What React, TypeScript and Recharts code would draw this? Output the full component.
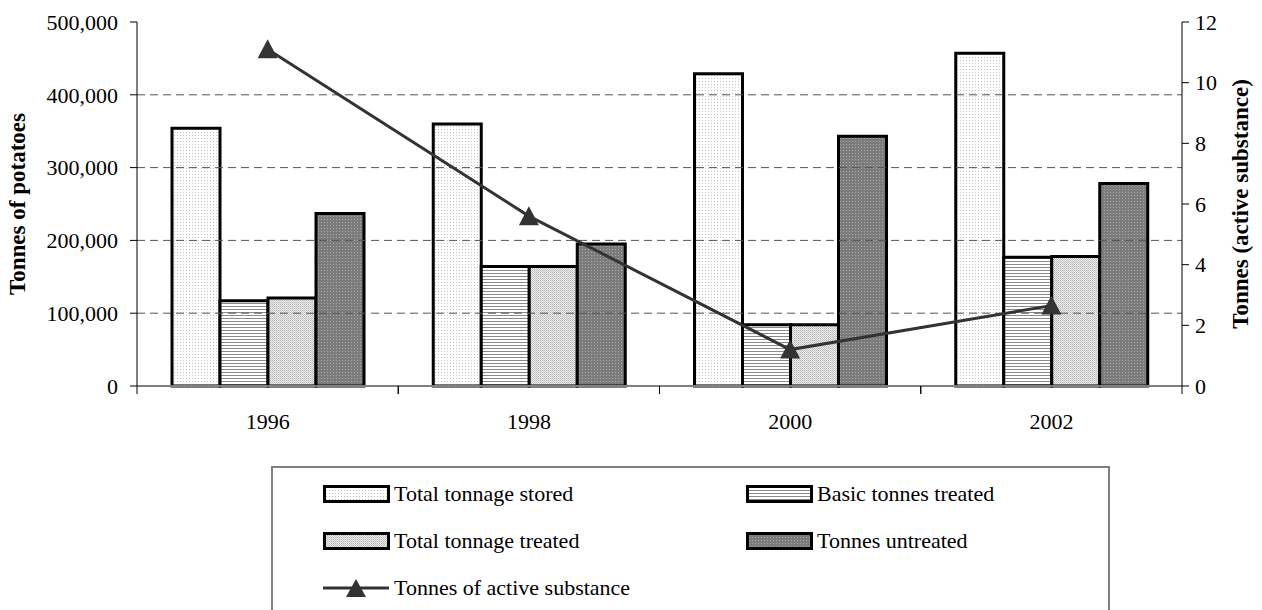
import React from "react";
import { ComposedChart, Bar, Line, XAxis, YAxis, ReferenceLine } from "recharts";

document.body.style.margin = "0";

const years = ["1996", "1998", "2000", "2002"];
const totalStored = [354000, 360000, 429000, 457000];
const basicTreated = [117000, 164000, 84000, 177000];
const totalTreated = [121000, 164000, 84000, 178000];
const untreated = [237000, 195000, 343000, 278000];
const activeSubstance = [11.1, 5.6, 1.2, 2.65];

const leftTicks = [0, 100000, 200000, 300000, 400000, 500000];
const rightTicks = [0, 2, 4, 6, 8, 10, 12];
const gridValues = [100000, 200000, 300000, 400000];

const FONT = "Liberation Serif, Times New Roman, serif";

const data = years.map((year, i) => ({
  year,
  stored: totalStored[i],
  basic: basicTreated[i],
  treated: totalTreated[i],
  untreated: untreated[i],
  active: activeSubstance[i],
}));

const series = [
  { key: "stored", name: "Total tonnage stored", fill: "url(#pStored)" },
  { key: "basic", name: "Basic tonnes treated", fill: "url(#pBasic)" },
  { key: "treated", name: "Total tonnage treated", fill: "url(#pTreated)" },
  { key: "untreated", name: "Tonnes untreated", fill: "url(#pUntreated)" },
];

const Patterns = () => (
  <svg width={0} height={0} style={{ position: "absolute" }}>
    <defs>
      <pattern id="pStored" width={3} height={3} patternUnits="userSpaceOnUse">
        <rect width={3} height={3} fill="#ffffff" />
        <rect width={1} height={1} fill="#c4c4c4" />
      </pattern>
      <pattern id="pBasic" width={3} height={3} patternUnits="userSpaceOnUse">
        <rect width={3} height={3} fill="#ffffff" />
        <rect width={3} height={1} fill="#8a8a8a" />
      </pattern>
      <pattern id="pTreated" width={2} height={2} patternUnits="userSpaceOnUse">
        <rect width={2} height={2} fill="#ececec" />
        <rect width={1} height={1} fill="#b8b8b8" />
        <rect x={1} y={1} width={1} height={1} fill="#c8c8c8" />
      </pattern>
      <pattern id="pUntreated" width={3} height={3} patternUnits="userSpaceOnUse">
        <rect width={3} height={3} fill="#7c7c7c" />
        <rect width={1} height={1} fill="#a8a8a8" />
      </pattern>
    </defs>
  </svg>
);

// year label plus tick marks at the category boundaries
const YearTick = (props: any) => {
  const { x, y, payload } = props;
  const off = payload.offset || 0;
  return (
    <g>
      <line x1={x - off} x2={x - off} y1={y} y2={y + 8} stroke="#000" />
      <line x1={x + off} x2={x + off} y1={y} y2={y + 8} stroke="#000" />
      <text x={x} y={y + 43} textAnchor="middle" fontSize={22} fontFamily={FONT} fill="#000">
        {payload.value}
      </text>
    </g>
  );
};

const AxisTitle = (props: any) => {
  const { viewBox, text, dx } = props;
  const x = viewBox.x + dx;
  const y = viewBox.y + viewBox.height / 2;
  return (
    <text
      x={x}
      y={y}
      transform={`rotate(-90, ${x}, ${y})`}
      textAnchor="middle"
      dominantBaseline="central"
      fontSize={23}
      fontWeight="bold"
      fontFamily={FONT}
      fill="#000"
    >
      {text}
    </text>
  );
};

const Triangle = (props: any) => {
  const { cx, cy, index } = props;
  if (cx == null || cy == null) return <g key={index} />;
  return (
    <polygon
      key={index}
      points={`${cx},${cy - 10} ${cx - 10},${cy + 9} ${cx + 10},${cy + 9}`}
      fill="#333333"
    />
  );
};

const Swatch = ({ fill }: { fill: string }) => (
  <svg width={68} height={20} style={{ display: "block" }}>
    <rect x={1.5} y={2.5} width={64} height={15} fill={fill} stroke="#000" strokeWidth={3} />
  </svg>
);

const LineSwatch = () => (
  <svg width={68} height={20} style={{ display: "block" }}>
    <line x1={0} x2={66} y1={10} y2={10} stroke="#333" strokeWidth={3} />
    <polygon points="33,1 23,19 43,19" fill="#333" />
  </svg>
);

const LegendItem = ({ left, top, children, label }: any) => (
  <div style={{ position: "absolute", left, top, display: "flex", alignItems: "center" }}>
    {children}
    <span style={{ marginLeft: 3, fontSize: 22, fontFamily: FONT, whiteSpace: "nowrap" }}>{label}</span>
  </div>
);

export default function App() {
  return (
    <div
      style={{
        position: "relative",
        width: 1262,
        height: 610,
        overflow: "hidden",
        background: "#fff",
        fontFamily: FONT,
      }}
    >
      <Patterns />
      <ComposedChart
        width={1262}
        height={610}
        data={data}
        margin={{ top: 22, right: 0, bottom: 0, left: 0 }}
        barGap={0}
        barSize={48}
      >
        <XAxis
          dataKey="year"
          height={224}
          tickLine={false}
          tickSize={0}
          tickMargin={0}
          axisLine={{ stroke: "#808080", strokeWidth: 2 }}
          tick={<YearTick />}
          interval={0}
        />
        <YAxis
          yAxisId="left"
          width={137}
          domain={[0, 500000]}
          ticks={leftTicks}
          interval={0}
          tickFormatter={(v: number) => v.toLocaleString("en-US")}
          tick={{ fontSize: 22, fill: "#000", fontFamily: FONT }}
          tickSize={7}
          tickMargin={12}
          axisLine={{ stroke: "#000" }}
          tickLine={{ stroke: "#000" }}
          label={<AxisTitle text="Tonnes of potatoes" dx={17} />}
        />
        <YAxis
          yAxisId="right"
          orientation="right"
          width={80}
          domain={[0, 12]}
          ticks={rightTicks}
          interval={0}
          tick={{ fontSize: 22, fill: "#000", fontFamily: FONT }}
          tickSize={7}
          tickMargin={6}
          axisLine={{ stroke: "#000" }}
          tickLine={{ stroke: "#000" }}
          label={<AxisTitle text="Tonnes (active substance)" dx={58} />}
        />
        {gridValues.map((v) => (
          <ReferenceLine key={v} yAxisId="left" y={v} stroke="#555" strokeDasharray="8 5" />
        ))}
        {series.map((s) => (
          <Bar
            key={s.key}
            yAxisId="left"
            dataKey={s.key}
            name={s.name}
            fill={s.fill}
            stroke="#000"
            strokeWidth={3}
            isAnimationActive={false}
          />
        ))}
        <Line
          yAxisId="right"
          dataKey="active"
          name="Tonnes of active substance"
          stroke="#333333"
          strokeWidth={3}
          dot={<Triangle />}
          activeDot={false}
          isAnimationActive={false}
        />
      </ComposedChart>

      <div
        style={{
          position: "absolute",
          left: 271,
          top: 466,
          width: 1110 - 271,
          height: 200,
          border: "2px solid #808080",
          boxSizing: "border-box",
        }}
      />
      <LegendItem left={323} top={481} label={series[0].name}>
        <Swatch fill={series[0].fill} />
      </LegendItem>
      <LegendItem left={746} top={481} label={series[1].name}>
        <Swatch fill={series[1].fill} />
      </LegendItem>
      <LegendItem left={323} top={528} label={series[2].name}>
        <Swatch fill={series[2].fill} />
      </LegendItem>
      <LegendItem left={746} top={528} label={series[3].name}>
        <Swatch fill={series[3].fill} />
      </LegendItem>
      <LegendItem left={323} top={575} label="Tonnes of active substance">
        <LineSwatch />
      </LegendItem>
    </div>
  );
}
